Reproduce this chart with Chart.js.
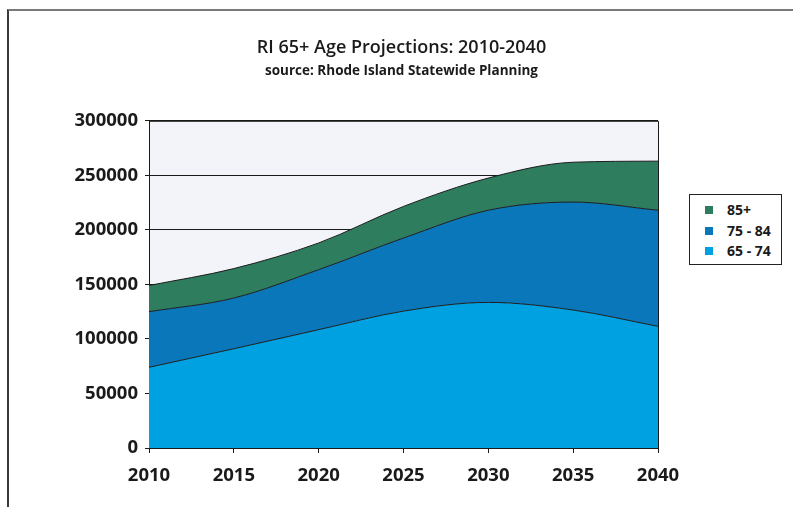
<!DOCTYPE html>
<html>
<head>
<meta charset="utf-8">
<title>RI 65+ Age Projections</title>
<script src="https://cdn.jsdelivr.net/npm/chart.js@4.4.1/dist/chart.umd.min.js"></script>
<style>
  html, body { margin: 0; padding: 0; background: #fff; }
  #wrap { position: relative; width: 793px; height: 507px; overflow: hidden; }
  #frame {
    position: absolute; left: 7px; top: 9px; width: 900px; height: 600px;
    border-left: 2px solid #3a3a3a; border-top: 2px solid #7a7a7a;
  }
  #ageChart { position: absolute; left: 0; top: 0; }
  #legend {
    position: absolute; left: 689px; top: 194px; width: 93px; height: 71px;
    box-sizing: border-box; border: 1.5px solid #222; background: #fff;
    font: bold 14px "Open Sans", sans-serif; color: #1a1a1a;
    padding-top: 5px;
  }
  .leg-row { position: relative; height: 20.5px; line-height: 20.5px; }
  .leg-box { position: absolute; left: 15px; top: 6px; width: 8px; height: 8px; }
  .leg-text { position: absolute; left: 37px; top: 0; }
</style>
</head>
<body>
<div id="wrap">
  <div id="frame"></div>
  <canvas id="ageChart" width="793" height="507"></canvas>
  <div id="legend"></div>
</div>
<script>
const years    = ["2010", "2015", "2020", "2025", "2030", "2035", "2040"];
const age65_74 = [74000, 91000, 108500, 125500, 133500, 126500, 111500];
const age75_84 = [51000, 46500, 55000, 67000, 84500, 99000, 106500];
const age85    = [24000, 27000, 24500, 29000, 29500, 36500, 45000];

const seriesNames  = ["65 - 74", "75 - 84", "85+"];
const seriesColors = ["#00a1e1", "#0a77ba", "#2e7d5f"];

Chart.defaults.font.family = "'Open Sans', sans-serif";
Chart.defaults.font.weight = "bold";
Chart.defaults.color = "#1a1a1a";

// light lavender plot background + top/right edge lines
const plotFrame = {
  id: "plotFrame",
  beforeDraw(chart) {
    const { ctx, chartArea: a } = chart;
    ctx.save();
    ctx.fillStyle = "#f3f3fa";
    ctx.fillRect(a.left, a.top, a.right - a.left, a.bottom - a.top);
    ctx.restore();
  },
  afterDatasetsDraw(chart) {
    const { ctx, chartArea: a } = chart;
    ctx.save();
    ctx.strokeStyle = "#1a1a1a";
    ctx.lineWidth = 1;
    ctx.beginPath();
    ctx.moveTo(a.left, a.top + 0.5);
    ctx.lineTo(a.right + 0.5, a.top + 0.5);
    ctx.lineTo(a.right + 0.5, a.bottom);
    ctx.stroke();
    ctx.restore();
  }
};

const dataLists = [age65_74, age75_84, age85];

const chart = new Chart(document.getElementById("ageChart"), {
  type: "line",
  data: {
    labels: years,
    datasets: dataLists.map((d, i) => ({
      label: seriesNames[i],
      data: d,
      backgroundColor: seriesColors[i],
      borderColor: "#1d1d1d",
      borderWidth: 1,
      fill: i === 0 ? "origin" : "-1",
      cubicInterpolationMode: "monotone",
      pointRadius: 0
    }))
  },
  options: {
    responsive: false,
    animation: false,
    layout: { padding: { top: 0, left: 10, right: 0, bottom: 26 } },
    plugins: {
      legend: { display: false },
      tooltip: { enabled: false },
      title: {
        display: true,
        text: "RI 65+ Age Projections: 2010-2040",
        font: { size: 18, weight: "600" },
        color: "#1a1a1a",
        padding: { top: 37, bottom: 3 }
      },
      subtitle: {
        display: true,
        text: "source: Rhode Island Statewide Planning",
        font: { size: 13.5, weight: "bold" },
        color: "#1a1a1a",
        padding: { top: 1, bottom: 42 }
      }
    },
    scales: {
      x: {
        offset: false,
        grid: { drawOnChartArea: false, drawTicks: true, tickLength: 5, color: "#1a1a1a" },
        border: { display: true, color: "#1a1a1a", width: 1 },
        ticks: { font: { size: 18.5, weight: "bold" }, padding: 12, maxRotation: 0, color: "#1a1a1a" },
        afterFit: s => { s.height = 33; }
      },
      y: {
        stacked: true,
        min: 0,
        max: 300000,
        ticks: {
          stepSize: 50000,
          font: { size: 18.5, weight: "bold" },
          padding: 7,
          color: "#1a1a1a",
          callback: v => String(v)
        },
        grid: { color: "#1a1a1a", lineWidth: 1, drawTicks: true, tickLength: 4 },
        border: { display: true, color: "#1a1a1a", width: 1 },
        afterFit: s => { s.width = 139; }
      },
      // empty right axis that keeps room for the legend
      side: {
        position: "right",
        display: true,
        ticks: { display: false },
        grid: { display: false },
        border: { display: false },
        afterFit: s => { s.width = 135; }
      }
    }
  },
  plugins: [plotFrame]
});

// legend built from the chart's datasets, top series first
const legendEl = document.getElementById("legend");
chart.data.datasets.slice().reverse().forEach(ds => {
  const row = document.createElement("div");
  row.className = "leg-row";
  row.innerHTML = `<span class="leg-box" style="background:${ds.backgroundColor}"></span><span class="leg-text">${ds.label}</span>`;
  legendEl.appendChild(row);
});
</script>
</body>
</html>
